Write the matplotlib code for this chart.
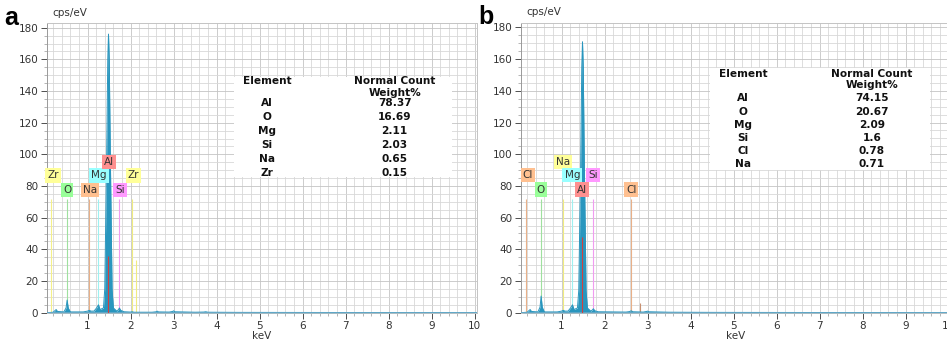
import matplotlib
matplotlib.use("Agg")
import matplotlib.pyplot as plt
from matplotlib.ticker import MultipleLocator

# ---------------- data ----------------
# spectrum a (energy keV, counts cps/eV)
energy_a = [0.05, 0.20, 0.25, 0.27, 0.30, 0.45, 0.50, 0.525, 0.55, 0.60, 0.90, 1.00, 1.04, 1.08,
            1.15, 1.21, 1.254, 1.29, 1.37, 1.40, 1.445, 1.47, 1.487, 1.504, 1.529, 1.57, 1.60,
            1.68, 1.72, 1.74, 1.77, 1.85, 2.00, 2.04, 2.08, 2.50, 2.60, 2.62, 2.65, 2.90, 2.98,
            3.00, 3.03, 3.50, 3.70, 3.75, 3.80, 4.50, 6.00, 8.00, 10.10]
counts_a = [0.0, 0.3, 1.5, 2.0, 0.8, 0.5, 3.0, 8.0, 3.0, 0.5, 0.5, 1.0, 1.5, 1.0,
            1.0, 3.0, 5.0, 2.0, 3.0, 15.0, 100.0, 160.0, 176.0, 160.0, 100.0, 15.0, 3.0,
            1.0, 2.0, 3.0, 1.5, 0.6, 0.4, 0.6, 0.3, 0.3, 0.6, 1.0, 0.5, 0.4, 0.8,
            1.2, 0.6, 0.3, 0.4, 0.6, 0.3, 0.2, 0.15, 0.1, 0.05]

# spectrum b
energy_b = [0.05, 0.20, 0.25, 0.27, 0.30, 0.45, 0.50, 0.525, 0.55, 0.60, 0.90, 1.00, 1.04, 1.08,
            1.15, 1.21, 1.254, 1.29, 1.37, 1.40, 1.445, 1.47, 1.487, 1.504, 1.529, 1.57, 1.60,
            1.68, 1.72, 1.74, 1.77, 1.85, 2.50, 2.58, 2.62, 2.66, 2.90, 2.98, 3.00, 3.03,
            3.50, 4.50, 6.00, 8.00, 10.10]
counts_b = [0.0, 0.3, 1.5, 2.0, 0.8, 0.5, 3.5, 10.5, 3.5, 0.5, 0.5, 1.0, 1.5, 1.0,
            1.0, 3.0, 5.0, 2.0, 3.0, 14.0, 95.0, 155.0, 171.0, 155.0, 95.0, 14.0, 3.0,
            1.0, 1.8, 2.5, 1.3, 0.6, 0.4, 0.7, 1.2, 0.6, 0.4, 0.8, 1.0, 0.6,
            0.3, 0.2, 0.15, 0.1, 0.05]

# element marker lines: (energy, height, colour)
marker_e_a = [0.151, 0.525, 1.041, 1.254, 1.487, 1.740, 2.042, 2.124]
marker_h_a = [72, 72, 72, 72, 72, 72, 72, 33]
marker_c_a = ["#f4f08a", "#9fe09f", "#e8b088", "#9ef0f0", "#e05050", "#f09cf0", "#f0ec80", "#f0ec80"]

marker_e_b = [0.182, 0.525, 1.041, 1.254, 1.487, 1.740, 2.622, 2.815]
marker_h_b = [72, 72, 72, 72, 72, 72, 72, 6]
marker_c_b = ["#e8b088", "#9fe09f", "#f0ec80", "#9ef0f0", "#e05050", "#f09cf0", "#e8b088", "#c89070"]

# Al marker visible on top of the peak
al_top_a = 36
al_top_b = 48

# element label boxes: (text, x keV, y cps/eV, face colour)
lab_txt_a = ["Zr", "O", "Na", "Mg", "Al", "Si", "Zr"]
lab_x_a = [0.20, 0.525, 1.05, 1.27, 1.50, 1.76, 2.07]
lab_y_a = [86.7, 77.7, 77.7, 86.7, 95.2, 77.7, 86.7]
lab_c_a = ["#ffff99", "#99ff99", "#ffc090", "#99ffff", "#ff9090", "#ff99ff", "#ffff99"]

lab_txt_b = ["Cl", "O", "Na", "Mg", "Al", "Si", "Cl"]
lab_x_b = [0.22, 0.52, 1.04, 1.25, 1.48, 1.74, 2.62]
lab_y_b = [86.7, 77.7, 95.0, 86.7, 77.7, 86.7, 77.7]
lab_c_b = ["#ffc090", "#99ff99", "#ffff99", "#99ffff", "#ff9090", "#ff99ff", "#ffc090"]

# composition tables
elements_a = ["Al", "O", "Mg", "Si", "Na", "Zr"]
weights_a = ["78.37", "16.69", "2.11", "2.03", "0.65", "0.15"]
elements_b = ["Al", "O", "Mg", "Si", "Cl", "Na"]
weights_b = ["74.15", "20.67", "2.09", "1.6", "0.78", "0.71"]

x_ticks = list(range(1, 11))
y_ticks = list(range(0, 181, 20))

# ---------------- figure ----------------
W, H = 947, 345
fig = plt.figure(figsize=(W / 100, H / 100), dpi=100)
plt.rcParams['font.family'] = ['DejaVu Sans']

SPEC = "#2996be"


def px_axes(left, right, top, bottom):
    return fig.add_axes([left / W, 1 - bottom / H, (right - left) / W, (bottom - top) / H])


def draw_panel(ax, energy, counts, me, mh, mc, al_top, lt, lx, ly, lc, elements, weights,
               box, hdr_y, wt_y, row_y, col1, col2, letter):
    ax.set_xlim(0.05, 10.05)
    ax.set_ylim(0, 183)
    ax.xaxis.set_major_locator(MultipleLocator(1))
    ax.xaxis.set_minor_locator(MultipleLocator(0.2))
    ax.yaxis.set_major_locator(MultipleLocator(20))
    ax.yaxis.set_minor_locator(MultipleLocator(5))
    ax.set_xticks(x_ticks)
    ax.set_yticks(y_ticks)
    ax.grid(which="major", color="#c4c4c4", lw=0.6)
    ax.grid(which="minor", color="#d8d8d8", lw=0.6)
    ax.set_axisbelow(True)
    ax.tick_params(which="major", labelsize=7.5, colors="#333333", length=4, width=0.6, pad=2)
    ax.tick_params(which="minor", length=2.5, width=0.5, colors="#999999")
    for s in ax.spines.values():
        s.set_color("#c4c4c4")
        s.set_linewidth(0.7)
    ax.spines["left"].set_color("#999999")

    # marker lines
    for e, h, c in zip(me, mh, mc):
        ax.vlines(e, 0, h, colors=c, lw=0.8, zorder=2)
    # spectrum
    ax.fill_between(energy, 0, counts, color=SPEC, lw=0, zorder=3)
    ax.plot(energy, counts, color=SPEC, lw=0.7, zorder=3)
    ax.axhline(0, color="#6aaac8", lw=1.2, zorder=3)
    ax.vlines(1.487, 0, al_top, colors="#d04040", lw=0.8, zorder=4)

    # label boxes
    for t, x, y, c in zip(lt, lx, ly, lc):
        ax.text(x, y, t, ha="center", va="center", fontsize=7.5, color="#333333", zorder=5,
                bbox=dict(boxstyle="square,pad=0.2", fc=c, ec="none"))

    # table
    x0, x1, y0, y1 = box
    ax.add_patch(plt.Rectangle((x0, y0), x1 - x0, y1 - y0, transform=ax.transAxes,
                               fc="white", ec="none", zorder=6))
    tk = dict(transform=ax.transAxes, fontsize=7.6, fontweight="bold", color="#111111",
              ha="center", va="center", zorder=7)
    ax.text(col1, hdr_y, "Element", **tk)
    ax.text(col2, hdr_y, "Normal Count", **tk)
    ax.text(col2, wt_y, "Weight%", **tk)
    for el, w, y in zip(elements, weights, row_y):
        ax.text(col1, y, el, **tk)
        ax.text(col2, y, w, **tk)

    ax.set_xlabel("keV", fontsize=7.5, color="#333333", labelpad=0)
    ax.text(0.013, 1.018, "cps/eV", transform=ax.transAxes, fontsize=7.5, color="#333333",
            ha="left", va="bottom")
    ax.text(-0.098, 1.06, letter, transform=ax.transAxes, fontsize=18, fontweight="bold",
            family="Liberation Sans", ha="left", va="top", color="black")


ax_a = px_axes(46.7, 476.7, 23, 312.7)
draw_panel(ax_a, energy_a, counts_a, marker_e_a, marker_h_a, marker_c_a, al_top_a,
           lab_txt_a, lab_x_a, lab_y_a, lab_c_a, elements_a, weights_a,
           (0.435, 0.942, 0.4684, 0.8136), 0.800, 0.758,
           [0.724, 0.676, 0.627, 0.579, 0.531, 0.482], 0.512, 0.809, "a")

ax_b = px_axes(520.7, 950.7, 22.7, 312.7)
draw_panel(ax_b, energy_b, counts_b, marker_e_b, marker_h_b, marker_c_b, al_top_b,
           lab_txt_b, lab_x_b, lab_y_b, lab_c_b, elements_b, weights_b,
           (0.440, 0.952, 0.492, 0.8438), 0.823, 0.785,
           [0.740, 0.692, 0.647, 0.602, 0.557, 0.513], 0.517, 0.817, "b")

fig.savefig("out.png", dpi=100)
